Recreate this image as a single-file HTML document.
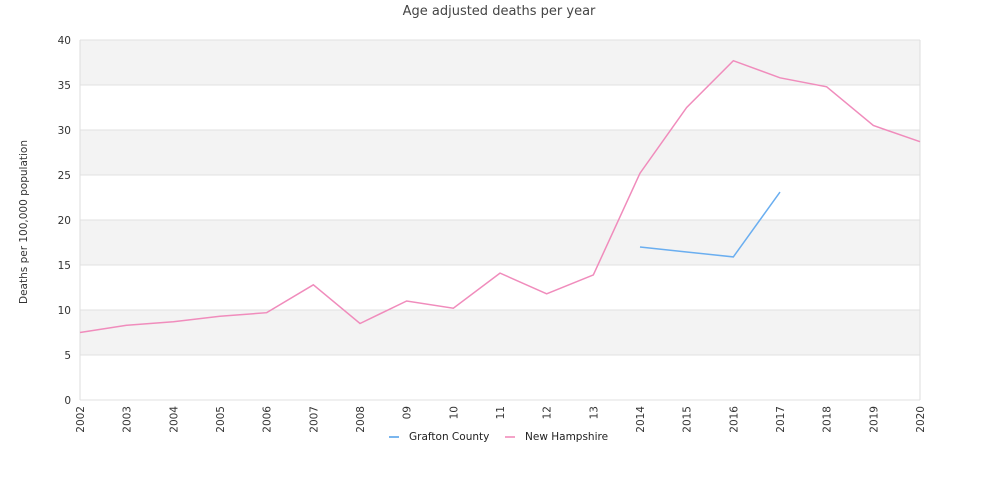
<!DOCTYPE html>
<html><head><meta charset="utf-8"><style>
body{margin:0;background:#fff;font-family:"DejaVu Sans","Liberation Sans",sans-serif;}
</style></head><body>
<svg id="chart" width="1000" height="500" style="display:block">
<text x="499" y="15" text-anchor="middle" font-size="13" fill="#444">Age adjusted deaths per year</text>
<text transform="translate(27,222) rotate(-90)" text-anchor="middle" font-size="10.5" fill="#333">Deaths per 100,000 population</text>
<g id="plot"></g>
<g>
<line x1="389" y1="437" x2="399" y2="437" stroke="#7ab6ee" stroke-width="2"/>
<text x="409" y="440" font-size="10.5" fill="#222">Grafton County</text>
<line x1="505" y1="437" x2="515" y2="437" stroke="#f4a3c8" stroke-width="2"/>
<text x="525" y="440" font-size="10.5" fill="#222">New Hampshire</text>
</g>
</svg>
<script>
const categories=["2002","2003","2004","2005","2006","2007","2008","09","10","11","12","13","2014","2015","2016","2017","2018","2019","2020"];
const nhValues=[7.5,8.3,8.7,9.3,9.7,12.8,8.5,11.0,10.2,14.1,11.8,13.9,25.2,32.5,37.7,35.8,34.8,30.5,28.7];
const graftonValues=[null,null,null,null,null,null,null,null,null,null,null,null,17.0,16.45,15.9,23.1,null,null,null];
const yTicks=[0,5,10,15,20,25,30,35,40];
const L=80,R=920,T=40,B=400,yMax=40;
const xs=i=>L+i*(R-L)/(categories.length-1);
const ys=v=>B-v*(B-T)/yMax;
const NS="http://www.w3.org/2000/svg";
const g=document.getElementById('plot');
function mk(t,a){const e=document.createElementNS(NS,t);for(const k in a)e.setAttribute(k,a[k]);g.appendChild(e);return e;}
for(let i=0;i<yTicks.length-1;i++){
 if(i%2===1){const r=mk('rect',{x:L,y:ys(yTicks[i+1]),width:R-L,height:ys(yTicks[i])-ys(yTicks[i+1]),fill:'#f3f3f3'});
 
 }
}
yTicks.forEach(v=>{
 const l=mk('line',{x1:L,x2:R,y1:ys(v),y2:ys(v),stroke:'#e2e2e2'});
 
 
 const t=mk('text',{x:L-9,y:ys(v)+4,'text-anchor':'end','font-size':'10.5',fill:'#333'});
 t.textContent=v;
 
 
});
mk('line',{x1:L,x2:L,y1:T,y2:B,stroke:'#ddd'});
mk('line',{x1:R,x2:R,y1:T,y2:B,stroke:'#ddd'});
categories.forEach((c,i)=>{
 const t=mk('text',{transform:`translate(${xs(i)+4},${B+6}) rotate(-90)`,'text-anchor':'end','font-size':'10.5',fill:'#333'});
 t.textContent=c;
 
 
});
function line(vals,color,name){
 let d='',pen=false;
 vals.forEach((v,i)=>{if(v==null){pen=false;return;}d+=(pen?'L':'M')+xs(i)+','+ys(v);pen=true;});
 const p=mk('path',{d:d,fill:'none',stroke:color,'stroke-width':1.5});
 
 
}
line(nhValues,'#f08cbc','new-hampshire-line');
line(graftonValues,'#6aaef0','grafton-county-line');
</script>
</body></html>
